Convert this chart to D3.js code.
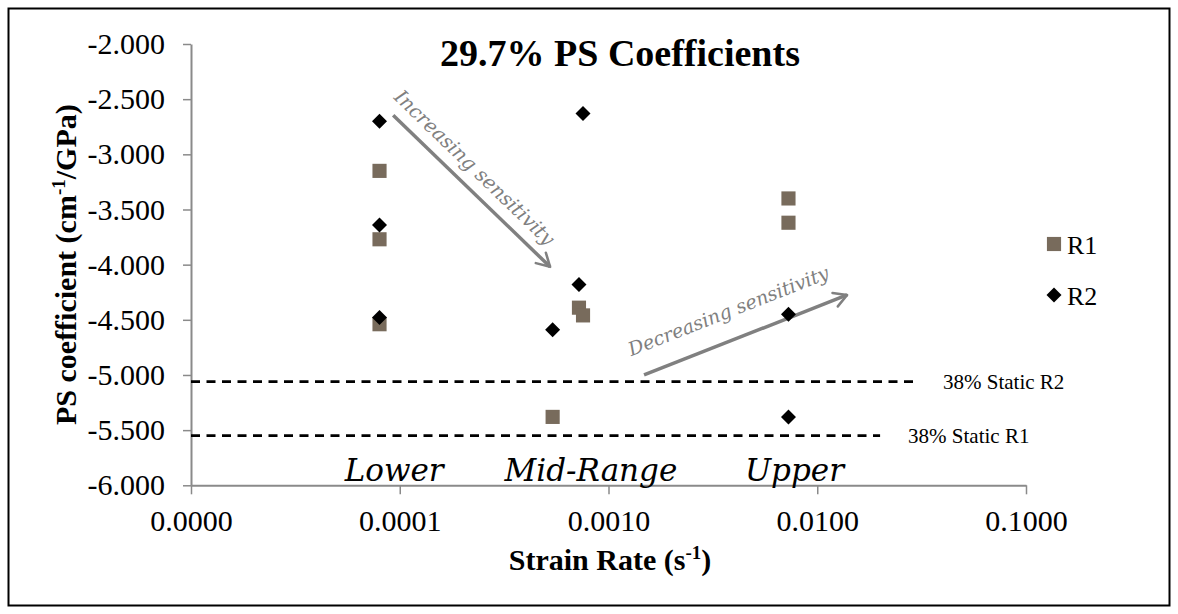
<!DOCTYPE html>
<html>
<head>
<meta charset="utf-8">
<script src="https://cdn.jsdelivr.net/npm/d3@7"></script>
<style>
  html, body { margin: 0; padding: 0; background: #fff; }
  svg { display: block; }
</style>
</head>
<body>
<svg id="chart" width="1178" height="614"></svg>
<script>
// ---------------- data ----------------
const seriesNames = ["R1", "R2"];
const r1Rate  = [8.0e-5, 8.0e-5, 8.0e-5, 7.22e-4, 7.55e-4, 5.40e-4, 7.28e-3, 7.28e-3];
const r1Coef  = [-3.15, -3.77, -4.54, -4.39, -4.46, -5.38, -3.40, -3.62];
const r2Rate  = [8.0e-5, 8.0e-5, 8.0e-5, 7.55e-4, 7.22e-4, 5.40e-4, 7.28e-3, 7.28e-3];
const r2Coef  = [-2.70, -3.64, -4.48, -2.63, -4.18, -4.59, -4.45, -5.38];
const staticNames = ["38% Static R2", "38% Static R1"];
const staticCoef  = [-5.06, -5.55];
const staticRateEnd = [0.0294, 0.020];
const xTickValues = [1e-5, 1e-4, 1e-3, 1e-2, 1e-1];
const xTickLabels = ["0.0000", "0.0001", "0.0010", "0.0100", "0.1000"];
const yTickValues = [-6, -5.5, -5, -4.5, -4, -3.5, -3, -2.5, -2];
const rangeNames = ["Lower", "Mid-Range", "Upper"];
const chartTitle = "29.7% PS Coefficients";

// ---------------- layout ----------------
const svg = d3.select("#chart");
const W = 1178, H = 614;
const plot = { left: 191, right: 1026, top: 44, bottom: 485.3 };
const x = d3.scaleLog().domain([1e-5, 1e-1]).range([plot.left, plot.right]);
const y = d3.scaleLinear().domain([-6, -2]).range([plot.bottom, plot.top]);

const axisColor = "#8a8a8a";
const r1Color = "#786b5c";
const serif = "'Liberation Serif', 'Times New Roman', serif";
const italicSerif = "'DejaVu Serif', serif";

// outer frame
svg.append("rect").attr("x", 8.5).attr("y", 8.5).attr("width", W - 17).attr("height", H - 17)
  .attr("fill", "#fff").attr("stroke", "#000").attr("stroke-width", 2);

// title
svg.append("text").attr("x", 620).attr("y", 66).attr("text-anchor", "middle")
  .attr("font-family", serif).attr("font-weight", "bold").attr("font-size", 38)
  .text(chartTitle);

// y axis
const yAxis = d3.axisLeft(y).tickValues(yTickValues).tickSize(8).tickSizeOuter(0)
  .tickFormat(d => d.toFixed(3));
const gy = svg.append("g").attr("transform", `translate(${plot.left},0)`).call(yAxis);
gy.select(".domain").attr("stroke", axisColor).attr("stroke-width", 2);
gy.selectAll(".tick line").attr("stroke", axisColor).attr("stroke-width", 1.5);
gy.selectAll(".tick text").attr("font-family", serif).attr("font-size", 30)
  .attr("fill", "#000").attr("x", -26);

// x axis
const xAxis = d3.axisBottom(x).tickValues(xTickValues).tickSize(9).tickSizeOuter(0)
  .tickFormat((d, i) => xTickLabels[i]);
const gx = svg.append("g").attr("transform", `translate(0,${plot.bottom})`).call(xAxis);
gx.select(".domain").attr("stroke", axisColor).attr("stroke-width", 2);
gx.selectAll(".tick line").attr("stroke", axisColor).attr("stroke-width", 1.5);
gx.selectAll(".tick text").attr("font-family", serif).attr("font-size", 30)
  .attr("fill", "#000").attr("y", 24).attr("dy", "0.71em");

// axis titles
const yt = svg.append("text").attr("transform", `translate(76,${(plot.top + plot.bottom) / 2}) rotate(-90)`)
  .attr("text-anchor", "middle").attr("font-family", serif).attr("font-weight", "bold")
  .attr("font-size", 30);
yt.append("tspan").text("PS coefficient (cm");
yt.append("tspan").attr("font-size", 19).attr("dy", -11).text("-1");
yt.append("tspan").attr("dy", 11).text("/GPa)");

const xt = svg.append("text").attr("x", 610).attr("y", 570)
  .attr("text-anchor", "middle").attr("font-family", serif).attr("font-weight", "bold")
  .attr("font-size", 30);
xt.append("tspan").text("Strain Rate (s");
xt.append("tspan").attr("font-size", 19).attr("dy", -11).text("-1");
xt.append("tspan").attr("dy", 11).text(")");

// static reference lines
staticCoef.forEach((v, i) => {
  svg.append("line")
    .attr("x1", x(1e-5)).attr("x2", x(staticRateEnd[i]))
    .attr("y1", y(v)).attr("y2", y(v))
    .attr("stroke", "#000").attr("stroke-width", 2.6).attr("stroke-dasharray", "9,6.5");
  svg.append("text").attr("x", x(staticRateEnd[i]) + 28).attr("y", y(v) + 7)
    .attr("font-family", serif).attr("font-size", 21).text(staticNames[i]);
});

// range labels
const rangeAnchorRate = [9.4e-5, 8.24e-4, 7.78e-3];
const rangeGroup = svg.append("g");
rangeNames.forEach((name, i) => {
  rangeGroup.append("text").attr("x", x(rangeAnchorRate[i])).attr("y", y(-5.96))
    .attr("text-anchor", "middle").attr("font-family", italicSerif).attr("font-style", "italic")
    .attr("font-size", 31).attr("fill", "#000").text(name);
});

// arrows
const defs = svg.append("defs");
defs.append("marker").attr("id", "ah").attr("viewBox", "0 0 12 12").attr("refX", 10).attr("refY", 6)
  .attr("markerWidth", 5.5).attr("markerHeight", 5.5).attr("markerUnits", "strokeWidth").attr("orient", "auto")
  .append("path").attr("d", "M2,1.5 L10,6 L2,10.5").attr("fill", "none").attr("stroke", "#808080")
  .attr("stroke-width", 1.6).attr("stroke-linecap", "round").attr("stroke-linejoin", "round");

const arrowFrom = [[9.3e-5, -2.645], [1.48e-3, -5.0]];
const arrowTo   = [[5.25e-4, -4.02], [1.39e-2, -4.275]];
const arrowText = ["Increasing sensitivity", "Decreasing sensitivity"];
const textOffset = [[-12, -12], [-5, -22]]; // along, normal (pixels)
arrowFrom.forEach((f, i) => {
  const x1 = x(f[0]), y1 = y(f[1]), x2 = x(arrowTo[i][0]), y2 = y(arrowTo[i][1]);
  svg.append("line").attr("x1", x1).attr("y1", y1).attr("x2", x2).attr("y2", y2)
    .attr("stroke", "#808080").attr("stroke-width", 3.5).attr("marker-end", "url(#ah)");
  const ang = Math.atan2(y2 - y1, x2 - x1);
  const dx = Math.cos(ang), dy = Math.sin(ang);
  const nx = dy, ny = -dx; // "up" of rotated text
  const tx = x1 + dx * textOffset[i][0] - nx * textOffset[i][1];
  const ty = y1 + dy * textOffset[i][0] - ny * textOffset[i][1];
  const t = svg.append("text").attr("transform", `translate(${tx},${ty}) rotate(${ang * 180 / Math.PI})`)
    .attr("font-family", italicSerif).attr("font-style", "italic").attr("font-size", 18)
    .attr("fill", "#808080").text(arrowText[i]);
  const len = t.node().getComputedTextLength();
  t.attr("font-size", 18 * 214 / len);
});

// points
const r1 = r1Rate.map((r, i) => ({ r, v: r1Coef[i] }));
const r2 = r2Rate.map((r, i) => ({ r, v: r2Coef[i] }));
const sq = d3.symbol().type(d3.symbolSquare).size(200);
const dm = (s) => `M0,${-s}L${s},0L0,${s}L${-s},0Z`;
svg.append("g").selectAll("path").data(r1).join("path")
  .attr("transform", d => `translate(${x(d.r)},${y(d.v)})`)
  .attr("d", sq).attr("fill", r1Color);
svg.append("g").selectAll("path").data(r2).join("path")
  .attr("transform", d => `translate(${x(d.r)},${y(d.v)})`)
  .attr("d", dm(7.5)).attr("fill", "#000");

// legend
const legend = svg.append("g");
seriesNames.forEach((name, i) => {
  const cy = 244 + i * 51;
  legend.append("path").attr("transform", `translate(1054,${cy})`)
    .attr("d", i === 0 ? sq : dm(7.5)).attr("fill", i === 0 ? r1Color : "#000");
  legend.append("text").attr("x", 1067).attr("y", cy + 9.5).attr("font-family", serif)
    .attr("font-size", 26).text(name);
});
</script>
</body>
</html>
